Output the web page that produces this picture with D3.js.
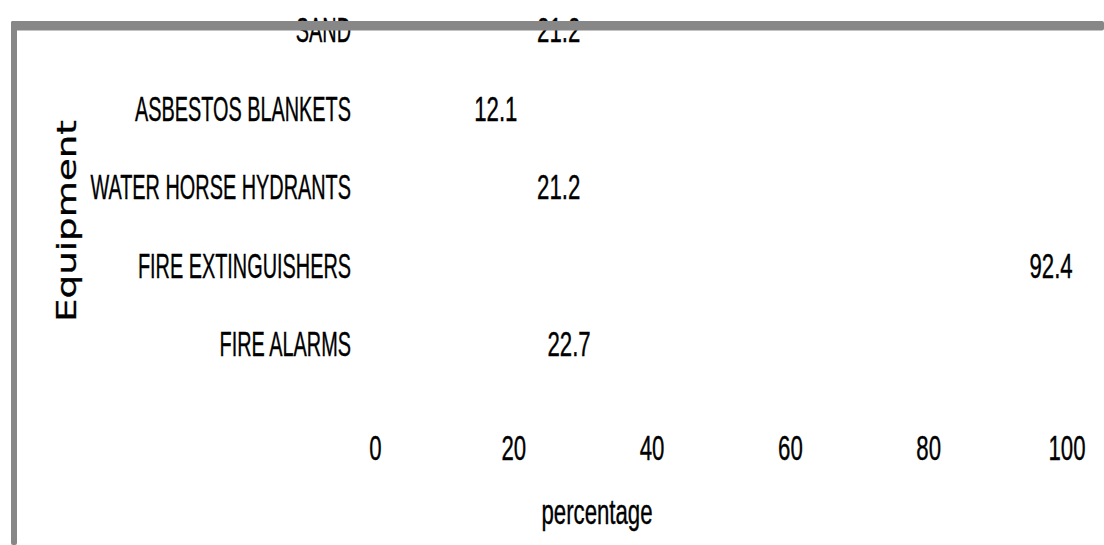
<!DOCTYPE html>
<html>
<head>
<meta charset="utf-8">
<script src="https://cdn.jsdelivr.net/npm/d3@7"></script>
<style>
  html, body { margin: 0; padding: 0; background: #fff; }
  svg { display: block; }
  .lbl { font-family: "Liberation Sans", Arial, sans-serif; font-size: 35px; fill: #000; stroke: #000; stroke-width: 0.4px; }
</style>
</head>
<body>
<svg id="chart" width="1104" height="545"></svg>
<script>
// Fire-safety equipment availability (percentage of respondents)
const categories = ["SAND", "ASBESTOS BLANKETS", "WATER HORSE HYDRANTS", "FIRE EXTINGUISHERS", "FIRE ALARMS"];
const values = [21.2, 12.1, 21.2, 92.4, 22.7];
const xTicks = [0, 20, 40, 60, 80, 100];
const xTitle = "percentage";
const yTitle = "Equipment";

const W = 1104, H = 545;
const svg = d3.select("#chart");

// horizontal compression for the condensed lettering
const sxCat = 0.568, sxNum = 0.635;

const x = d3.scaleLinear().domain([0, 100]).range([375, 1066.5]);
const y = d3.scaleBand().domain(categories).range([-9.75, 382.75])
  .paddingInner(0.3).paddingOuter(0.15);

const data = categories.map((c, i) => ({ cat: c, val: values[i] }));

// bars (white on white, as in the original figure)
svg.append("g").selectAll("rect").data(data).join("rect")
  .attr("x", x(0))
  .attr("y", d => y(d.cat))
  .attr("width", d => x(d.val) - x(0))
  .attr("height", y.bandwidth())
  .attr("fill", "#ffffff");

// value labels
svg.append("g").selectAll("g").data(data).join("g")
  .attr("transform", d => `translate(${x(d.val) + 15.5},${y(d.cat) + y.bandwidth() / 2}) scale(${sxNum},1)`)
  .append("text")
  .attr("class", "lbl")
  .attr("dy", "0.36em")
  .text(d => d.val.toFixed(1));

// category axis
const yAxis = svg.append("g")
  .attr("transform", "translate(351,0)")
  .call(d3.axisLeft(y).tickSize(0).tickPadding(0));
yAxis.select(".domain").remove();
yAxis.selectAll("text")
  .attr("class", "lbl")
  .attr("x", 0)
  .attr("dy", "0.36em")
  .attr("font-size", null)
  .attr("font-family", null)
  .attr("fill", null)
  .attr("transform", `scale(${sxCat},1)`);

// value axis
const xAxis = svg.append("g")
  .attr("transform", "translate(0,447)")
  .call(d3.axisBottom(x).tickValues(xTicks).tickFormat(d3.format("d")).tickSize(0).tickPadding(0));
xAxis.select(".domain").remove();
xAxis.selectAll("text")
  .attr("class", "lbl")
  .attr("y", 0)
  .attr("dy", "0.36em")
  .attr("font-size", null)
  .attr("font-family", null)
  .attr("fill", null)
  .attr("transform", `scale(${sxNum},1)`);

// axis titles
svg.append("g")
  .attr("transform", `translate(597,524) scale(${sxNum},1)`)
  .append("text")
  .attr("class", "lbl")
  .attr("text-anchor", "middle")
  .text(xTitle);

svg.append("g")
  .attr("transform", "translate(76,221) rotate(-90) scale(1.43,1)")
  .append("text")
  .attr("text-anchor", "middle")
  .attr("font-family", "DejaVu Sans, sans-serif")
  .attr("font-size", 26)
  .attr("fill", "#000")
  .attr("stroke", "#000")
  .attr("stroke-width", 0.3)
  .text(yTitle);

// grey frame drawn over the top of the plot
const frame = svg.append("g").attr("fill", "#878787");
frame.append("rect").attr("x", 11).attr("y", 21).attr("width", W - 11).attr("height", 9.5).attr("rx", 2);
frame.append("rect").attr("x", 11).attr("y", 21).attr("width", 6).attr("height", H - 21).attr("rx", 2);
</script>
</body>
</html>
